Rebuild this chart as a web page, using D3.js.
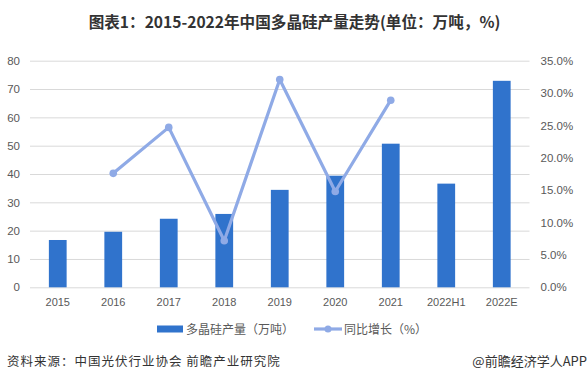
<!DOCTYPE html>
<html><head><meta charset="utf-8">
<script src="https://cdn.jsdelivr.net/npm/d3@7"></script>
<style>body{margin:0;background:#fff;}svg{display:block;font-family:"Noto Sans CJK SC","Microsoft YaHei",sans-serif;}</style>
</head><body><svg id="c" width="587" height="380"></svg>
<script>
const categories = ["2015","2016","2017","2018","2019","2020","2021","2022H1","2022E"];
const production = [16.7,19.6,24.2,25.9,34.4,39.4,50.7,36.6,72.9];
const growth = [null,17.6,24.7,7.2,32.1,14.8,28.9,null,null];
const leftTicks = [0,10,20,30,40,50,60,70,80];
const rightTicks = [0,0.05,0.10,0.15,0.20,0.25,0.30,0.35];
const titleText = "图表1：2015-2022年中国多晶硅产量走势(单位：万吨，%)";
const seriesNames = ["多晶硅产量（万吨）","同比增长（%）"];
const sourceText = "资料来源：中国光伏行业协会 前瞻产业研究院";
const brandText = "@前瞻经济学人APP";

const svg = d3.select("#c");
const L = 30, R = 529.5, T = 60.7, B = 287.3;
const x = d3.scaleBand().domain(categories).range([L,R]).paddingInner(0.68).paddingOuter(0.34);
const y = d3.scaleLinear().domain([0,80]).range([B,T]);
const y2 = d3.scaleLinear().domain([0,0.35]).range([B,T]);
const barColor = "#3073CC", lineColor = "#8FAAE6", textColor = "#595959";

svg.append("text").attr("x",294.5).attr("y",28).attr("text-anchor","middle")
  .attr("font-size",15.6).attr("font-weight","bold").attr("fill","#333").text(titleText);

// gridlines
svg.append("g").selectAll("line").data(leftTicks).join("line")
  .attr("x1",L).attr("x2",R).attr("y1",d=>y(d)+0.5).attr("y2",d=>y(d)+0.5)
  .attr("stroke","#d9d9d9").attr("stroke-width",1);

// left axis
const ga = svg.append("g").attr("transform",`translate(${L},0)`)
  .call(d3.axisLeft(y).tickValues(leftTicks).tickSize(0).tickPadding(10));
ga.select(".domain").remove();
ga.selectAll("text").attr("font-size",11.5).attr("fill",textColor).attr("font-family","Liberation Sans, Arial, sans-serif");

const gr = svg.append("g").attr("transform",`translate(${R},0)`)
  .call(d3.axisRight(y2).tickValues(rightTicks).tickSize(0).tickPadding(11).tickFormat(d3.format(".1%")));
gr.select(".domain").remove();
gr.selectAll("text").attr("font-size",11.5).attr("fill",textColor).attr("font-family","Liberation Sans, Arial, sans-serif");

const gx = svg.append("g").attr("transform",`translate(0,${B})`)
  .call(d3.axisBottom(x).tickSize(0).tickPadding(11));
gx.select(".domain").remove();
gx.selectAll("text").attr("font-size",11).attr("fill",textColor).attr("font-family","Liberation Sans, Arial, sans-serif");

// bars
svg.append("g").selectAll("rect").data(categories).join("rect")
  .attr("x",d=>x(d)).attr("width",x.bandwidth())
  .attr("y",(d,i)=>y(production[i])).attr("height",(d,i)=>B-y(production[i]))
  .attr("fill",barColor);

// line
const pts = categories.map((c,i)=>({c,v:growth[i]})).filter(p=>p.v!==null);
const line = d3.line().x(p=>x(p.c)+x.bandwidth()/2).y(p=>y2(p.v/100));
svg.append("path").datum(pts).attr("d",line).attr("fill","none")
  .attr("stroke",lineColor).attr("stroke-width",3.2).attr("stroke-linejoin","round");
svg.append("g").selectAll("circle").data(pts).join("circle")
  .attr("cx",p=>x(p.c)+x.bandwidth()/2).attr("cy",p=>y2(p.v/100)).attr("r",3.8).attr("fill",lineColor);

// legend
const ly = 329;
svg.append("rect").attr("x",157).attr("y",ly-3.5).attr("width",26).attr("height",7).attr("fill",barColor);
svg.append("text").attr("x",186).attr("y",ly+4.5).attr("font-size",12).attr("fill",textColor).text(seriesNames[0]);
svg.append("line").attr("x1",314).attr("x2",342).attr("y1",ly).attr("y2",ly).attr("stroke",lineColor).attr("stroke-width",3.2);
svg.append("circle").attr("cx",328).attr("cy",ly).attr("r",3.5).attr("fill",lineColor);
svg.append("text").attr("x",344).attr("y",ly+4.5).attr("font-size",12).attr("fill",textColor).text(seriesNames[1]);

// footer
svg.append("text").attr("x",7).attr("y",366).attr("font-size",12.5).attr("fill","#333").attr("letter-spacing",1.0).text(sourceText);
svg.append("text").attr("x",587).attr("y",366).attr("text-anchor","end").attr("font-size",13).attr("fill","#333").text(brandText);
</script></body></html>
